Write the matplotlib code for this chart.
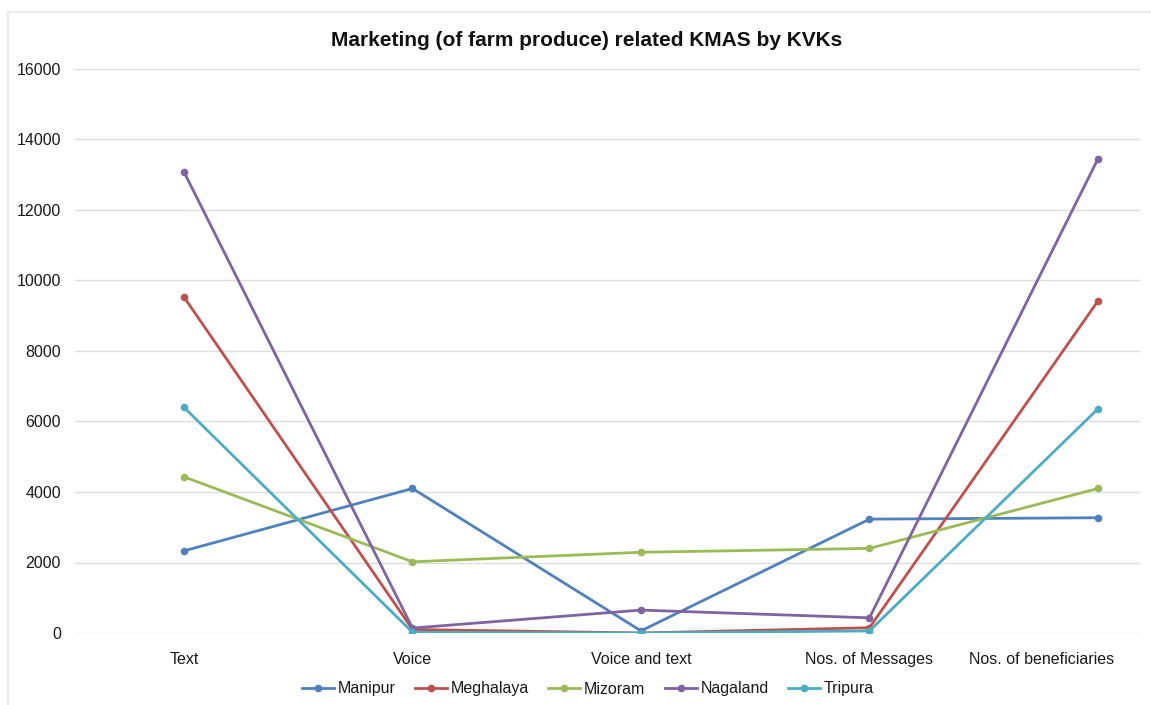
import matplotlib
matplotlib.use("Agg")
import matplotlib.pyplot as plt
from matplotlib.lines import Line2D
from matplotlib.transforms import ScaledTranslation

plt.rcParams['font.family'] = ['Liberation Sans', 'DejaVu Sans']

categories = ["Text", "Voice", "Voice and text", "Nos. of Messages", "Nos. of beneficiaries"]
manipur = [2330, 4100, 60, 3230, 3270]
meghalaya = [9530, 100, 0, 150, 9420]
mizoram = [4430, 2020, 2290, 2400, 4100]
nagaland = [13080, 140, 650, 430, 13450]
tripura = [6400, 20, 0, 60, 6360]

series = [
    ("Manipur", manipur, "#4F81BD"),
    ("Meghalaya", meghalaya, "#C0504D"),
    ("Mizoram", mizoram, "#9BBB59"),
    ("Nagaland", nagaland, "#8064A2"),
    ("Tripura", tripura, "#4BACC6"),
]
y_ticks = [0, 2000, 4000, 6000, 8000, 10000, 12000, 14000, 16000]

W, H = 1151, 705
fig = plt.figure(figsize=(W / 100, H / 100), dpi=100)
ax = fig.add_axes([75 / W, 1 - 633 / H, (1140 - 75) / W, (633 - 69) / H])

x = list(range(len(categories)))
for name, vals, col in series:
    ax.plot(x, vals, color=col, lw=2, marker='o', ms=4.5, label=name, zorder=3)

ax.set_xlim(-0.477, 4.184)
ax.set_ylim(0, 16000)
ax.set_yticks(y_ticks)
ax.set_yticklabels([str(v) for v in y_ticks])
ax.set_xticks(x)
ax.set_xticklabels(categories)
ax.tick_params(axis='both', length=0, labelsize=11.5, colors='#1a1a1a')
ax.tick_params(axis='y', pad=10)
ax.tick_params(axis='x', pad=14)
ax.yaxis.grid(True, color='#DDDDDD', lw=1)
ax.set_axisbelow(True)
for s in ax.spines.values():
    s.set_visible(False)

# keep the last category label inside the chart area
last = ax.get_xticklabels()[-1]
last.set_transform(last.get_transform() + ScaledTranslation(-0.56, 0, fig.dpi_scale_trans))

fig.text(587 / W, 1 - 40 / H, "Marketing (of farm produce) related KMAS by KVKs",
         ha='center', va='center', fontsize=15, fontweight='bold', color='#111111')

# chart area border
fig.add_artist(Line2D([8 / W, 8 / W], [0, 1 - 12 / H], color='#E6E6E6', lw=1.2))
fig.add_artist(Line2D([8 / W, 1], [1 - 12 / H, 1 - 12 / H], color='#E6E6E6', lw=1.2))

fig.legend(loc='center', bbox_to_anchor=(588 / W, 1 - 689 / H), ncol=5, frameon=False,
           fontsize=11.5, handlelength=2.0, columnspacing=1.2, handletextpad=0.25,
           labelcolor='#1a1a1a')

fig.savefig("out.png", dpi=100, facecolor='white')
